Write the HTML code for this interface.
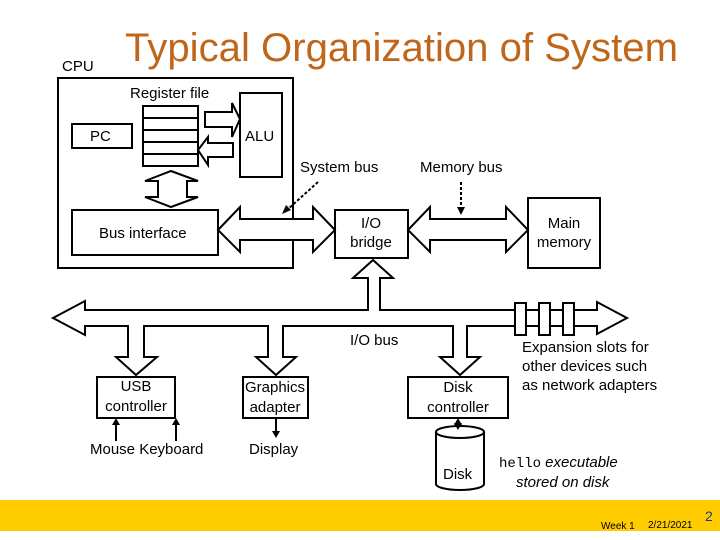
<!DOCTYPE html>
<html><head><style>
body{margin:0;width:720px;height:540px;background:#fff;overflow:hidden;position:relative;font-family:"Liberation Sans",sans-serif}
svg{position:absolute;left:0;top:0}
</style></head><body>
<svg width="720" height="540" viewBox="0 0 720 540" font-family="Liberation Sans, sans-serif">
<rect x="0" y="500" width="720" height="31" fill="#ffcc00"/>
<text x="125" y="61" font-size="40" fill="#c0661a" textLength="553" lengthAdjust="spacingAndGlyphs">Typical Organization of System</text>
<text x="62" y="71" font-size="15">CPU</text>
<g fill="none" stroke="#000" stroke-width="2">
<polyline points="58,268 58,78 293,78 293,268"/>
<line x1="57" y1="268" x2="294" y2="268"/>
<rect x="72" y="124" width="60" height="24"/>
<rect x="143" y="106" width="55" height="60"/>
<line x1="143" y1="118" x2="198" y2="118"/><line x1="143" y1="130" x2="198" y2="130"/>
<line x1="143" y1="142" x2="198" y2="142"/><line x1="143" y1="154" x2="198" y2="154"/>
<rect x="240" y="93" width="42" height="84"/>
<rect x="72" y="210" width="146" height="45"/>
<rect x="335" y="210" width="73" height="48"/>
<rect x="528" y="198" width="72" height="70"/>
<rect x="97" y="377" width="78" height="41"/>
<rect x="243" y="377" width="65" height="41"/>
<rect x="408" y="377" width="100" height="41"/>
</g>
<g fill="#fff" stroke="#000" stroke-width="2">
<polygon points="205,112 232,112 232,103 240,119 232,137 232,127 205,127"/>
<polygon points="233,143 208,143 208,137 198,150 208,165 208,157 233,157"/>
<polygon points="171,171 198,181 187,181 187,197 198,197 171,207 145,197 158,197 158,181 145,181"/>
<polygon points="218,230 240,207 240,219 313,219 313,207 335,230 313,252 313,240 240,240 240,252"/>
<polygon points="408,230 430,207 430,219 506,219 506,207 528,230 506,252 506,240 430,240 430,252"/>
<polygon points="53,318 85,301 85,310 368,310 368,278 353,278 373,260 393,278 380,278 380,310 597,310 597,302 627,318 597,334 597,326 467,326 467,357 480,357 460,375 440,357 453,357 453,326 283,326 283,357 296,357 276,375 256,357 268,357 268,326 144,326 144,357 157,357 136,375 116,357 128,357 128,326 85,326 85,335"/>
<rect x="515" y="303" width="11" height="32"/>
<rect x="539" y="303" width="11" height="32"/>
<rect x="563" y="303" width="11" height="32"/>
<path d="M436,432 L436,484 A24,6 0 0 0 484,484 L484,432"/>
<ellipse cx="460" cy="432" rx="24" ry="6"/>
</g>
<g stroke="#000" stroke-width="2" stroke-dasharray="3,2" fill="none">
<line x1="318" y1="182" x2="287" y2="210"/>
<line x1="461" y1="182" x2="461" y2="210"/>
</g>
<g fill="#000">
<polygon points="282,214 286,205 291,210"/>
<polygon points="461,215 457,207 465,207"/>
</g>
<g stroke="#000" stroke-width="2">
<line x1="116" y1="441" x2="116" y2="423"/><line x1="176" y1="441" x2="176" y2="423"/>
<line x1="276" y1="418" x2="276" y2="432"/>
<line x1="458" y1="421" x2="458" y2="428"/>
</g>
<g fill="#000">
<polygon points="116,418 112,425 120,425"/><polygon points="176,418 172,425 180,425"/>
<polygon points="276,438 272,431 280,431"/>
<polygon points="458,418 454,425 462,425"/><polygon points="458,430 454,423 462,423"/>
</g>
<g font-size="15" fill="#000">
<text x="130" y="98">Register file</text>
<text x="90" y="141">PC</text>
<text x="245" y="141">ALU</text>
<text x="300" y="172">System bus</text>
<text x="420" y="172">Memory bus</text>
<text x="99" y="238">Bus interface</text>
<text x="371" y="228" text-anchor="middle">I/O</text>
<text x="371" y="247" text-anchor="middle">bridge</text>
<text x="564" y="228" text-anchor="middle">Main</text>
<text x="564" y="247" text-anchor="middle">memory</text>
<text x="350" y="345">I/O bus</text>
<text x="522" y="352">Expansion slots for</text>
<text x="522" y="371">other devices such</text>
<text x="522" y="390">as network adapters</text>
<text x="136" y="391" text-anchor="middle">USB</text>
<text x="136" y="411" text-anchor="middle">controller</text>
<text x="275" y="392" text-anchor="middle">Graphics</text>
<text x="275" y="412" text-anchor="middle">adapter</text>
<text x="458" y="392" text-anchor="middle">Disk</text>
<text x="458" y="412" text-anchor="middle">controller</text>
<text x="90" y="454">Mouse Keyboard</text>
<text x="249" y="454">Display</text>
<text x="443" y="479">Disk</text>
<text x="499" y="467" font-style="italic"><tspan font-family="Liberation Mono, monospace" font-style="normal" font-size="14">hello</tspan> executable</text>
<text x="516" y="487" font-style="italic">stored on disk</text>
</g>
<text x="601" y="529" font-size="10">Week 1</text>
<text x="648" y="528" font-size="10">2/21/2021</text>
<text x="705" y="521" font-size="14" fill="#1f3b7a">2</text>
</svg>
</body></html>
